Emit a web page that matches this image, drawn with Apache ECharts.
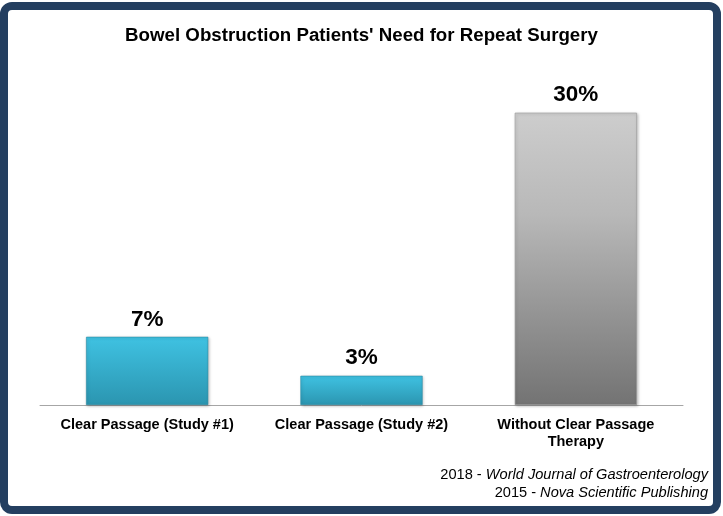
<!DOCTYPE html>
<html><head><meta charset="utf-8">
<script src="https://cdn.jsdelivr.net/npm/echarts@6/dist/echarts.min.js"></script>
<style>
html,body{margin:0;padding:0;background:#fff;width:723px;height:516px;overflow:hidden}
#frame{position:absolute;left:0;top:2px;width:705px;height:496px;border:8px solid #243F60;border-radius:12px;background:#fff}
#c{position:absolute;left:0;top:0;width:723px;height:516px}
</style></head><body>
<div id="frame"></div>
<div id="c"></div>
<script>
const titleText = "Bowel Obstruction Patients' Need for Repeat Surgery";
const categories = ["Clear Passage (Study #1)", "Clear Passage (Study #2)", "Without Clear Passage\nTherapy"];
const values = [7, 3, 30];
const valueLabels = ["7%", "3%", "30%"];
const footnotes = [["2018 - ", "World Journal of Gastroenterology"], ["2015 - ", "Nova Scientific Publishing"]];

const blue = new echarts.graphic.LinearGradient(0,0,0,1,[{offset:0,color:'#3FC2E2'},{offset:1,color:'#2B95B0'}]);
const gray = new echarts.graphic.LinearGradient(0,0,0,1,[{offset:0,color:'#CDCDCD'},{offset:0.35,color:'#B8B8B8'},{offset:1,color:'#737373'}]);
const colors = [blue, blue, gray];
const FF = 'Liberation Sans, Arial';

const chart = echarts.init(document.getElementById('c'), null, {renderer:'canvas'});
chart.setOption({
  animation:false,
  backgroundColor:'transparent',
  title:{text:titleText,left:'center',top:21,textStyle:{fontFamily:FF,fontWeight:'bold',fontSize:18.7,color:'#000'}},
  grid:{left:40,right:40,top:64,bottom:111,containLabel:false},
  xAxis:{type:'category',data:categories,
    axisLine:{lineStyle:{color:'#A6A6A6',width:1}},axisTick:{show:false},
    axisLabel:{interval:0,margin:11,color:'#000',fontFamily:FF,fontWeight:'bold',fontSize:14.5,lineHeight:17}},
  yAxis:{type:'value',min:0,max:35,show:false,splitLine:{show:false}},
  series:[{type:'bar',barWidth:'57%',
    data:values.map((v,i)=>({value:v,itemStyle:{color:colors[i],borderColor:i===2?'#9a9a9a':'#2A8AA3',borderWidth:0.6,shadowColor:'rgba(0,0,0,0.25)',shadowBlur:3,shadowOffsetX:1,shadowOffsetY:1}})),
    label:{show:true,position:'top',distance:6,formatter:p=>valueLabels[p.dataIndex],color:'#000',fontFamily:FF,fontWeight:'bold',fontSize:22.5}}],
  graphic:footnotes.map((f,k)=>({type:'text',x:708,y:467+k*18.5,style:{
    text:f[0]+'{i|'+f[1]+'}',
    align:'right',verticalAlign:'top',fill:'#000',fontFamily:FF,fontSize:14.6,
    rich:{i:{fontStyle:'italic',fontFamily:FF,fontSize:14.6,fill:'#000'}}}}))
});
</script></body></html>
